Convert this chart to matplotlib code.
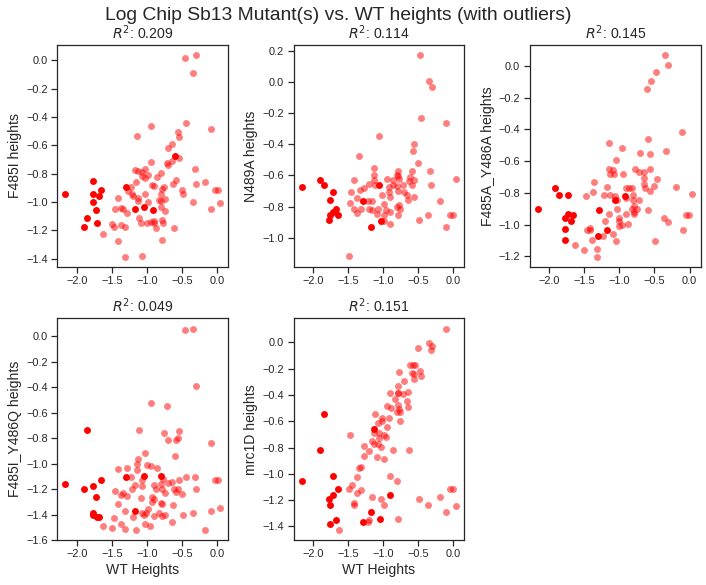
import numpy as np
import matplotlib
matplotlib.use('Agg')
import matplotlib.pyplot as plt

plt.rcParams['font.family'] = ['Liberation Sans', 'DejaVu Sans']
plt.rcParams['text.color'] = '.15'
plt.rcParams['axes.labelcolor'] = '.15'
plt.rcParams['axes.edgecolor'] = '.15'
plt.rcParams['axes.linewidth'] = 1.25
plt.rcParams['xtick.color'] = '.15'
plt.rcParams['ytick.color'] = '.15'

names = ['F485I', 'N489A', 'F485A_Y486A', 'F485I_Y486Q', 'mrc1D']
r2 = [0.209, 0.114, 0.145, 0.049, 0.151]

# points, (wt, mutant), log heights
f485i = np.array([(-0.457,0.014),(-0.30,0.035),(-0.343,-0.091),(-0.943,-0.464),(-0.443,-0.443),(-0.086,-0.485),
    (-1.143,-0.535),(-0.557,-0.507),(-0.543,-0.539),(-0.70,-0.619),(-0.643,-0.591),(-0.643,-0.711),(-0.543,-0.689),
    (-0.714,-0.725),(-0.70,-0.739),(-0.943,-0.718),(-0.314,-0.767),(-1.171,-0.774),(-1.129,-0.781),(-1.029,-0.767),
    (-1.071,-0.788),(-0.80,-0.795),(-0.986,-0.809),(-1.07,-0.816),(-1.03,-0.83),(-0.857,-0.823),(-0.586,-0.844),
    (-0.629,-0.872),(-1.157,-0.858),(-0.30,-0.872),(-0.171,-0.858),(-0.929,-0.88),(-0.90,-0.886),(-0.757,-0.894),
    (-0.786,-0.908),(-1.229,-0.894),(-0.5,-0.915),(-0.486,-0.943),(-0.029,-0.915),(0.014,-0.915),(-1.27,-0.92),
    (-1.214,-0.943),(-1.03,-0.943),(-0.80,-0.943),(-1.414,-0.971),(-1.2,-0.957),(-1.129,-0.971),(-1.129,-0.992),
    (-0.743,-0.978),(-0.829,-0.985),(-0.80,-0.992),(-0.986,-1.0),(-0.343,-1.0),(0.043,-1.006),(-0.80,-1.034),
    (-1.457,-1.048),(-1.371,-1.041),(-1.343,-1.048),(-1.286,-1.076),(-0.743,-1.062),(-0.086,-1.048),(-1.114,-1.112),
    (-1.086,-1.147),(-1.0,-1.147),(-0.943,-1.14),(-0.90,-1.133),(-0.9,-1.147),(-0.786,-1.126),(-0.771,-1.147),
    (-1.5,-1.154),(-1.471,-1.175),(-1.371,-1.161),(-1.314,-1.175),(-0.871,-1.182),(-0.614,-1.182),(-1.629,-1.224),
    (-1.414,-1.273),(-0.786,-1.266),(-1.314,-1.386),(-1.071,-1.379)])
f485i_out = np.array([(-2.17,-0.943),(-1.77,-0.85),(-1.77,-0.943),(-1.77,-1.0),(-1.66,-0.915),(-1.69,-0.957),
    (-1.73,-1.055),(-1.86,-1.11),(-1.9,-1.18),(-1.71,-1.147),(-1.3,-0.893),(-1.17,-1.048),(-1.04,-1.034),
    (-0.92,-1.055),(-0.595,-0.675)])

n489a = np.array([(-0.469,0.172),(-0.341,0.006),(-0.299,-0.032),(-0.455,-0.23),(-0.10,-0.262),(-1.066,-0.345),
    (-0.555,-0.396),(-0.569,-0.44),(-1.351,-0.472),(-0.498,-0.517),(-1.137,-0.555),(-0.782,-0.574),(-0.583,-0.574),
    (-0.327,-0.574),(-1.137,-0.60),(-0.81,-0.60),(-0.782,-0.606),(-0.611,-0.613),(-1.422,-0.632),(-1.137,-0.632),
    (-0.953,-0.626),(-0.867,-0.632),(-0.768,-0.626),(-0.555,-0.632),(0.043,-0.626),(-0.626,-0.638),(-1.209,-0.657),
    (-1.123,-0.664),(-0.867,-0.664),(-0.81,-0.67),(-0.711,-0.664),(-0.583,-0.664),(-0.313,-0.664),(-1.28,-0.683),
    (-0.924,-0.677),(-1.327,-0.696),(-0.924,-0.709),(-0.796,-0.702),(-1.46,-0.709),(-0.697,-0.709),(-0.654,-0.728),
    (-1.024,-0.728),(-0.896,-0.74),(-0.555,-0.74),(-1.38,-0.747),(-0.64,-0.76),(-1.16,-0.766),(-1.218,-0.766),
    (-0.185,-0.766),(-1.479,-0.779),(-0.995,-0.785),(-0.768,-0.791),(-0.81,-0.804),(-1.422,-0.817),(-1.322,-0.817),
    (-1.209,-0.817),(-1.08,-0.817),(-0.754,-0.817),(-1.16,-0.823),(-0.967,-0.823),(-1.38,-0.843),(-0.91,-0.836),
    (-1.09,-0.849),(-0.995,-0.855),(-0.782,-0.855),(-0.355,-0.855),(-0.043,-0.855),(0.0,-0.855),(-0.483,-0.887),
    (-0.995,-0.894),(-0.896,-0.913),(-0.10,-0.932),(-1.493,-1.117)])
n489a_out = np.array([(-2.16,-0.677),(-1.905,-0.632),(-1.848,-0.664),(-1.72,-0.709),(-1.763,-0.76),(-1.294,-0.766),
    (-1.649,-0.855),(-1.678,-0.817),(-1.72,-0.836),(-1.763,-0.855),(-1.777,-0.887),(-1.18,-0.932),(-1.066,-0.664),
    (-1.038,-0.894)])

f485a_y486a = np.array([(-0.351,0.067),(-0.308,0.004),(-0.479,-0.04),(-0.55,-0.096),(-0.607,-0.147),(-0.109,-0.417),
    (-0.592,-0.461),(-1.147,-0.486),(-0.962,-0.517),(-0.336,-0.536),(-0.706,-0.549),(-0.564,-0.555),(-1.047,-0.593),
    (-1.147,-0.649),(-1.09,-0.655),(-0.777,-0.649),(-0.564,-0.649),(-0.72,-0.668),(-0.649,-0.668),(-1.133,-0.681),
    (-1.076,-0.681),(-0.948,-0.681),(-0.649,-0.706),(-0.464,-0.712),(-1.36,-0.731),(-0.649,-0.743),(-1.175,-0.762),
    (-0.507,-0.756),(-0.194,-0.762),(-0.905,-0.769),(-0.863,-0.769),(-0.82,-0.769),(-0.635,-0.769),(-1.374,-0.794),
    (-0.564,-0.787),(-1.474,-0.819),(-1.218,-0.813),(-1.133,-0.813),(-1.062,-0.819),(-0.806,-0.813),(-0.905,-0.831),
    (0.033,-0.806),(-0.806,-0.844),(-0.72,-0.844),(-1.033,-0.844),(-0.791,-0.882),(-1.033,-0.90),(-0.82,-0.90),
    (-0.749,-0.90),(-0.592,-0.907),(-1.147,-0.932),(-0.905,-0.932),(-0.791,-0.919),(-0.791,-0.932),(-0.052,-0.938),
    (-0.009,-0.938),(-1.005,-0.957),(-0.365,-0.957),(-1.005,-0.976),(-1.204,-0.976),(-0.308,-0.982),(-1.005,-1.007),
    (-0.962,-1.001),(-0.877,-0.995),(-1.46,-1.032),(-1.417,-1.02),(-1.417,-1.032),(-0.095,-1.032),(-1.09,-1.058),
    (-1.232,-1.07),(-1.389,-1.095),(-1.047,-1.102),(-0.493,-1.102),(-1.63,-1.127),(-1.502,-1.158),(-1.318,-1.152),
    (-1.318,-1.202)])
f485a_y486a_out = np.array([(-2.17,-0.90),(-1.915,-0.769),(-1.858,-0.813),(-1.73,-0.813),(-1.73,-0.932),(-1.773,-0.957),
    (-1.659,-0.938),(-1.687,-0.976),(-1.773,-1.026),(-1.773,-1.10),(-1.289,-0.907),(-1.303,-1.07),(-1.175,-1.032),
    (-1.062,-0.844),(-0.919,-0.819)])

f485i_y486q = np.array([(-0.457,0.053),(-0.343,0.06),(-0.30,-0.389),(-0.943,-0.523),(-0.714,-0.547),(-1.114,-0.736),
    (-0.543,-0.744),(-0.757,-0.759),(-0.557,-0.799),(-0.70,-0.815),(-0.586,-0.815),(-0.086,-0.838),(-1.029,-0.917),
    (-0.60,-0.941),(-1.129,-0.964),(-1.143,-1.004),(-1.0,-1.012),(-0.943,-1.019),(-0.857,-1.035),(-1.414,-1.043),
    (-1.286,-1.035),(-1.143,-1.051),(-1.229,-1.106),(-0.771,-1.122),(-1.071,-1.13),(-0.70,-1.153),(-0.643,-1.146),
    (-0.543,-1.13),(-0.443,-1.106),(-0.314,-1.106),(-0.029,-1.13),(0.014,-1.13),(-1.171,-1.169),(-0.90,-1.169),
    (-0.80,-1.161),(-1.071,-1.177),(-1.214,-1.2),(-0.871,-1.2),(-0.786,-1.2),(-0.614,-1.2),(-0.557,-1.2),(-0.30,-1.2),
    (-1.457,-1.216),(-0.586,-1.224),(-0.743,-1.232),(-0.5,-1.24),(-1.343,-1.232),(-1.371,-1.248),(-1.286,-1.256),
    (-1.086,-1.272),(-0.929,-1.264),(-0.90,-1.28),(-0.929,-1.303),(-1.414,-1.319),(-0.80,-1.311),(-0.786,-1.319),
    (-0.629,-1.327),(-1.314,-1.374),(-0.986,-1.358),(-1.071,-1.39),(-1.043,-1.406),(-1.014,-1.39),(-0.829,-1.39),
    (-0.343,-1.39),(-0.086,-1.374),(0.043,-1.35),(-1.2,-1.421),(-0.90,-1.414),(-0.786,-1.414),(-0.743,-1.406),
    (-0.486,-1.406),(-1.471,-1.429),(-0.643,-1.461),(-1.371,-1.477),(-1.029,-1.477),(-0.957,-1.492),(-1.629,-1.492),
    (-1.5,-1.508),(-1.314,-1.516),(-1.157,-1.524),(-0.171,-1.524)])
f485i_y486q_out = np.array([(-2.17,-1.161),(-1.857,-0.736),(-1.9,-1.2),(-1.771,-1.177),(-1.657,-1.13),(-1.729,-1.264),
    (-1.3,-1.106),(-1.043,-1.098),(-0.795,-1.098),(-1.171,-1.374),(-1.771,-1.39),(-1.771,-1.406),(-1.714,-1.416),
    (-1.686,-1.421)])

mrc1d = np.array([(-0.10,0.104),(-0.341,-0.003),(-0.299,-0.025),(-0.498,-0.041),(-0.313,-0.056),(-0.611,-0.171),
    (-0.569,-0.171),(-0.54,-0.171),(-0.768,-0.224),(-0.583,-0.232),(-0.469,-0.216),(-0.555,-0.239),(-0.455,-0.255),
    (-0.555,-0.277),(-0.697,-0.293),(-0.796,-0.331),(-0.64,-0.377),(-0.896,-0.384),(-0.796,-0.384),(-0.711,-0.392),
    (-0.782,-0.384),(-0.825,-0.43),(-0.654,-0.445),(-0.782,-0.476),(-0.953,-0.484),(-0.882,-0.499),(-0.64,-0.491),
    (-0.768,-0.506),(-0.81,-0.529),(-0.754,-0.529),(-1.123,-0.545),(-1.024,-0.575),(-0.924,-0.575),(-1.024,-0.598),
    (-0.754,-0.598),(-1.08,-0.613),(-0.953,-0.644),(-1.066,-0.69),(-1.479,-0.705),(-0.995,-0.705),(-1.137,-0.69),
    (-0.967,-0.72),(-1.066,-0.728),(-1.166,-0.751),(-1.137,-0.774),(-1.08,-0.774),(-1.28,-0.789),(-1.038,-0.797),
    (-1.209,-0.827),(-0.867,-0.82),(-0.626,-0.82),(-1.28,-0.865),(-1.095,-0.873),(-0.995,-0.888),(-1.351,-0.957),
    (-1.322,-0.949),(-1.379,-1.026),(-0.91,-1.018),(-0.81,-1.056),(-1.45,-1.087),(-1.493,-1.117),(-1.322,-1.125),
    (-1.379,-1.148),(-0.043,-1.117),(0.0,-1.117),(-1.166,-1.178),(-0.185,-1.178),(-1.038,-1.194),(-0.483,-1.194),
    (-1.422,-1.224),(-1.422,-1.24),(-0.995,-1.24),(-0.355,-1.24),(0.043,-1.247),(-0.10,-1.293),(-0.796,-1.346),
    (-1.209,-1.354),(-1.223,-1.369),(-1.635,-1.43)])
mrc1d_out = np.array([(-2.161,-1.056),(-1.848,-0.545),(-1.905,-0.82),(-1.72,-1.018),(-1.649,-1.117),(-1.72,-1.163),
    (-1.777,-1.194),(-1.763,-1.24),(-1.678,-1.354),(-1.763,-1.385),(-1.294,-1.369),(-1.18,-1.293),(-1.052,-1.346),
    (-1.137,-0.659),(-0.91,-1.163)])

points = [f485i, n489a, f485a_y486a, f485i_y486q, mrc1d]
outliers = [f485i_out, n489a_out, f485a_y486a_out, f485i_y486q_out, mrc1d_out]
ylims = [(-1.456, 0.108), (-1.186, 0.238), (-1.265, 0.132), (-1.6, 0.142), (-1.504, 0.183)]

fig, axes = plt.subplots(2, 3, figsize=(706 / 72, 585 / 72), dpi=72)
fig.subplots_adjust(left=0.0812, right=0.9925, top=0.923, bottom=0.077, wspace=0.383, hspace=0.234)
axes = axes.flatten()
axes[5].remove()

for i in range(5):
    ax = axes[i]
    ax.scatter(points[i][:, 0], points[i][:, 1], s=48, c='red', alpha=0.5, linewidths=0)
    ax.scatter(outliers[i][:, 0], outliers[i][:, 1], s=48, c='red', linewidths=0)
    ax.set_xlim(-2.28, 0.16)
    ax.set_ylim(ylims[i])
    ax.set_xticks([-2.0, -1.5, -1.0, -0.5, 0.0])
    ax.tick_params(labelsize=11, length=6, width=1.25)
    ax.set_title('$R^2$: ' + str(r2[i]), fontsize=14, pad=6)
    ax.set_ylabel(names[i] + ' heights', fontsize=14, labelpad=4)
    if i >= 3:
        ax.set_xlabel('WT Heights', fontsize=14, labelpad=4)

fig.suptitle('Log Chip Sb13 Mutant(s) vs. WT heights (with outliers)', fontsize=19.3, x=0.479, y=0.974, va='center')
plt.savefig('out.png', dpi=72)
